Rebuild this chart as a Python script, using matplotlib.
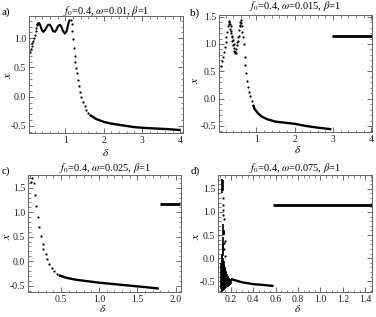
import numpy as np
import matplotlib
matplotlib.use("Agg")
import matplotlib.pyplot as plt
from matplotlib.ticker import MultipleLocator, FormatStrFormatter

plt.rcParams['font.family'] = ['Liberation Serif', 'DejaVu Serif']
plt.rcParams['mathtext.fontset'] = 'stix'
plt.rcParams['axes.unicode_minus'] = True

# ---------------- data ----------------
# panel a  (omega = 0.01)
a_rise_d = [0.08, 0.10, 0.12, 0.14, 0.16, 0.18, 0.20, 0.22, 0.24, 0.26]
a_rise_x = [0.77, 0.81, 0.86, 0.91, 0.96, 1.01, 1.06, 1.12, 1.17, 1.22]
a_wave_d = [0.26, 0.28, 0.31, 0.34, 0.37, 0.40, 0.43, 0.47, 0.51, 0.55, 0.60, 0.64,
            0.68, 0.73, 0.77, 0.81, 0.86, 0.90, 0.94, 0.99, 1.03, 1.06, 1.09, 1.12]
a_wave_x = [1.22, 1.25, 1.26, 1.23, 1.17, 1.12, 1.11, 1.14, 1.19, 1.23, 1.23, 1.18,
            1.12, 1.11, 1.15, 1.21, 1.23, 1.19, 1.12, 1.08, 1.12, 1.20, 1.28, 1.32]
a_drop_d = [1.14, 1.16, 1.18, 1.20, 1.22, 1.24, 1.26, 1.28, 1.30, 1.33, 1.36, 1.39,
            1.42, 1.46, 1.50, 1.54, 1.59, 1.64]
a_drop_x = [1.31, 1.24, 1.13, 0.99, 0.84, 0.70, 0.59, 0.49, 0.40, 0.29, 0.18, 0.08,
            -0.01, -0.09, -0.16, -0.22, -0.27, -0.31]
a_tail_d = [1.64, 1.80, 2.00, 2.20, 2.50, 2.80, 3.10, 3.40, 3.70, 4.00]
a_tail_x = [-0.31, -0.38, -0.43, -0.46, -0.49, -0.52, -0.535, -0.545, -0.555, -0.57]

# panel b  (omega = 0.015)
b_pts_d = [0.09, 0.12, 0.14, 0.16, 0.18, 0.20, 0.22, 0.24, 0.26, 0.28, 0.29, 0.30,
           0.31, 0.32, 0.33, 0.34, 0.35, 0.36, 0.37, 0.38, 0.39, 0.40, 0.41, 0.42,
           0.43, 0.44, 0.45, 0.46, 0.47, 0.48, 0.50, 0.51, 0.52, 0.53, 0.54, 0.56,
           0.57, 0.58, 0.59, 0.60, 0.61, 0.62, 0.63, 0.65, 0.67, 0.70, 0.72, 0.74,
           0.77, 0.79, 0.82, 0.85, 0.88, 0.92]
b_pts_x = [0.59, 0.68, 0.76, 0.85, 0.95, 1.03, 1.12, 1.22, 1.32, 1.40, 1.36, 1.42,
           1.36, 1.28, 1.33, 1.20, 1.24, 1.12, 1.15, 1.05, 1.08, 0.98, 1.00, 0.92,
           0.88, 0.85, 0.83, 0.86, 0.84, 0.90, 0.98, 1.03, 1.06, 1.12, 1.15, 1.25,
           1.33, 1.35, 1.40, 1.44, 1.38, 1.32, 1.22, 1.12, 1.00, 0.77, 0.62, 0.47,
           0.33, 0.22, 0.12, 0.04, -0.04, -0.12]
b_tail_d = [0.92, 0.96, 1.05, 1.15, 1.30, 1.50, 1.75, 2.00, 2.30, 2.60, 2.96]
b_tail_x = [-0.12, -0.19, -0.27, -0.33, -0.38, -0.42, -0.44, -0.46, -0.50, -0.53, -0.56]
b_flat_d = [2.98, 4.03]
b_flat_x = [1.15, 1.15]

# panel c  (omega = 0.025)
c_pts_d = [0.105, 0.122, 0.145, 0.158, 0.18, 0.20, 0.22, 0.246, 0.26, 0.27, 0.30,
           0.32, 0.35, 0.38, 0.41, 0.45, 0.48]
c_pts_x = [1.61, 1.69, 1.59, 1.36, 1.12, 0.90, 0.69, 0.51, 0.36, 0.24, 0.15,
           0.04, -0.05, -0.13, -0.20, -0.26, -0.29]
c_tail_d = [0.48, 0.55, 0.60, 0.70, 0.80, 0.90, 1.00, 1.20, 1.40, 1.60, 1.78]
c_tail_x = [-0.29, -0.33, -0.35, -0.38, -0.40, -0.42, -0.44, -0.47, -0.50, -0.53, -0.56]
c_flat_d = [1.80, 2.06]
c_flat_x = [1.16, 1.16]

# panel d  (omega = 0.075)
d_seg_d  = [0.125, 0.130, 0.128, 0.135, 0.140, 0.128, 0.133, 0.115, 0.120, 0.125,
            0.130, 0.135, 0.140, 0.145, 0.150, 0.155, 0.160, 0.165, 0.170, 0.175,
            0.180, 0.190, 0.200]
d_seg_lo = [1.42, 1.45, 0.50, 0.52, 0.50, 0.05, 0.10, -0.66, -0.70, -0.72,
            -0.70, -0.68, -0.68, -0.66, -0.65, -0.64, -0.63, -0.62, -0.62, -0.61,
            -0.60, -0.58, -0.56]
d_seg_hi = [1.72, 1.70, 0.74, 0.60, 0.56, 0.45, 0.30, -0.10, 0.05, 0.10,
            0.00, -0.05, -0.15, -0.20, -0.25, -0.28, -0.32, -0.35, -0.38, -0.40,
            -0.42, -0.44, -0.45]
d_pts_d = [0.126, 0.127, 0.126, 0.128, 0.135, 0.145, 0.140, 0.142, 0.150]
d_pts_x = [1.31, 1.16, 1.05, 0.94, 0.85, 0.38, 0.33, 0.20, 0.05]
d_tail_d = [0.20, 0.23, 0.27, 0.30, 0.35, 0.40, 0.45, 0.50, 0.58]
d_tail_x = [-0.45, -0.47, -0.50, -0.52, -0.54, -0.56, -0.57, -0.58, -0.60]
d_flat_d = [0.58, 1.46]
d_flat_x = [1.16, 1.16]

titles = [r"$f_0$=0.4, $\omega$=0.01, $\beta$=1",
          r"$f_0$=0.4, $\omega$=0.015, $\beta$=1",
          r"$f_0$=0.4, $\omega$=0.025, $\beta$=1",
          r"$f_0$=0.4, $\omega$=0.075, $\beta$=1"]
labels = ["a)", "b)", "c)", "d)"]

# ---------------- figure ----------------
W, H = 376, 317
fig = plt.figure(figsize=(W / 100, H / 100), dpi=100)

def rect(l, r, t, b):
    return [l / W, 1 - b / H, (r - l) / W, (b - t) / H]

axa = fig.add_axes(rect(29, 183, 16, 133))
axb = fig.add_axes(rect(219, 372, 15, 132))
axc = fig.add_axes(rect(28, 181, 175, 292))
axd = fig.add_axes(rect(218, 372, 175, 292))

ms = 1.6
lw = 1.7

def dots(ax, d, x):
    ax.plot(d, x, 'o', color='black', ms=ms, mew=0, ls='none')

def line(ax, d, x, w=lw):
    ax.plot(d, x, '-', color='black', lw=w, solid_capstyle='butt')

dots(axa, a_rise_d, a_rise_x)
line(axa, a_wave_d, a_wave_x, 1.5)
dots(axa, a_drop_d, a_drop_x)
line(axa, a_tail_d, a_tail_x)

dots(axb, b_pts_d, b_pts_x)
line(axb, b_tail_d, b_tail_x)
line(axb, b_flat_d, b_flat_x, 2.0)

dots(axc, c_pts_d, c_pts_x)
line(axc, c_tail_d, c_tail_x)
line(axc, c_flat_d, c_flat_x, 2.0)

axd.vlines(d_seg_d, d_seg_lo, d_seg_hi, color='black', lw=1.2)
dots(axd, d_pts_d, d_pts_x)
line(axd, d_tail_d, d_tail_x)
line(axd, d_flat_d, d_flat_x, 2.0)

cfg = [
    (axa, (0.05, 4.07), (-0.62, 1.38), 1, 0.2, 0.5, 0.1, '%d'),
    (axb, (0.03, 4.02), (-0.61, 1.53), 1, 0.2, 0.5, 0.1, '%d'),
    (axc, (0.07, 2.07), (-0.63, 1.76), 0.5, 0.1, 0.5, 0.1, '%.1f'),
    (axd, (0.085, 1.46), (-0.73, 1.80), 0.2, 0.05, 0.5, 0.1, '%.1f'),
]
for ax, xl, yl, xM, xm, yM, ym, xf in cfg:
    ax.set_xlim(*xl)
    ax.set_ylim(*yl)
    ax.xaxis.set_major_locator(MultipleLocator(xM))
    ax.xaxis.set_minor_locator(MultipleLocator(xm))
    ax.yaxis.set_major_locator(MultipleLocator(yM))
    ax.yaxis.set_minor_locator(MultipleLocator(ym))
    ax.xaxis.set_major_formatter(FormatStrFormatter(xf))
    ax.yaxis.set_major_formatter(FormatStrFormatter('%.1f'))
    ax.tick_params(which='both', direction='in', top=True, right=True,
                   color='#555555', labelsize=7, labelcolor='#222222', pad=2)
    ax.tick_params(which='major', length=3.5, width=0.6)
    ax.tick_params(which='minor', length=1.8, width=0.5)
    for s in ax.spines.values():
        s.set_color('#666666')
        s.set_linewidth(0.7)

# titles, panel letters, axis labels (pixel positions)
def ftext(x, y, s, **kw):
    fig.text(x / W, 1 - y / H, s, **kw)

tpos = [(106, 11), (295, 6), (105, 168), (295, 168)]
lpos = [(2, 12), (190, 13), (2, 171), (191, 171)]
ylpos = [(8, 75), (195, 80), (7, 236), (196, 236)]
xlpos = [(106, 153), (298, 150), (103, 309), (298, 309)]
for i in range(4):
    ftext(*tpos[i], titles[i], ha='center', va='center', fontsize=7.5)
    ftext(*lpos[i], labels[i], ha='left', va='center', fontsize=8)
    ftext(*ylpos[i], r"$x$", ha='center', va='center', fontsize=8.5, rotation=90)
    ftext(*xlpos[i], r"$\delta$", ha='center', va='center', fontsize=8)

fig.savefig("out.png", dpi=100)
